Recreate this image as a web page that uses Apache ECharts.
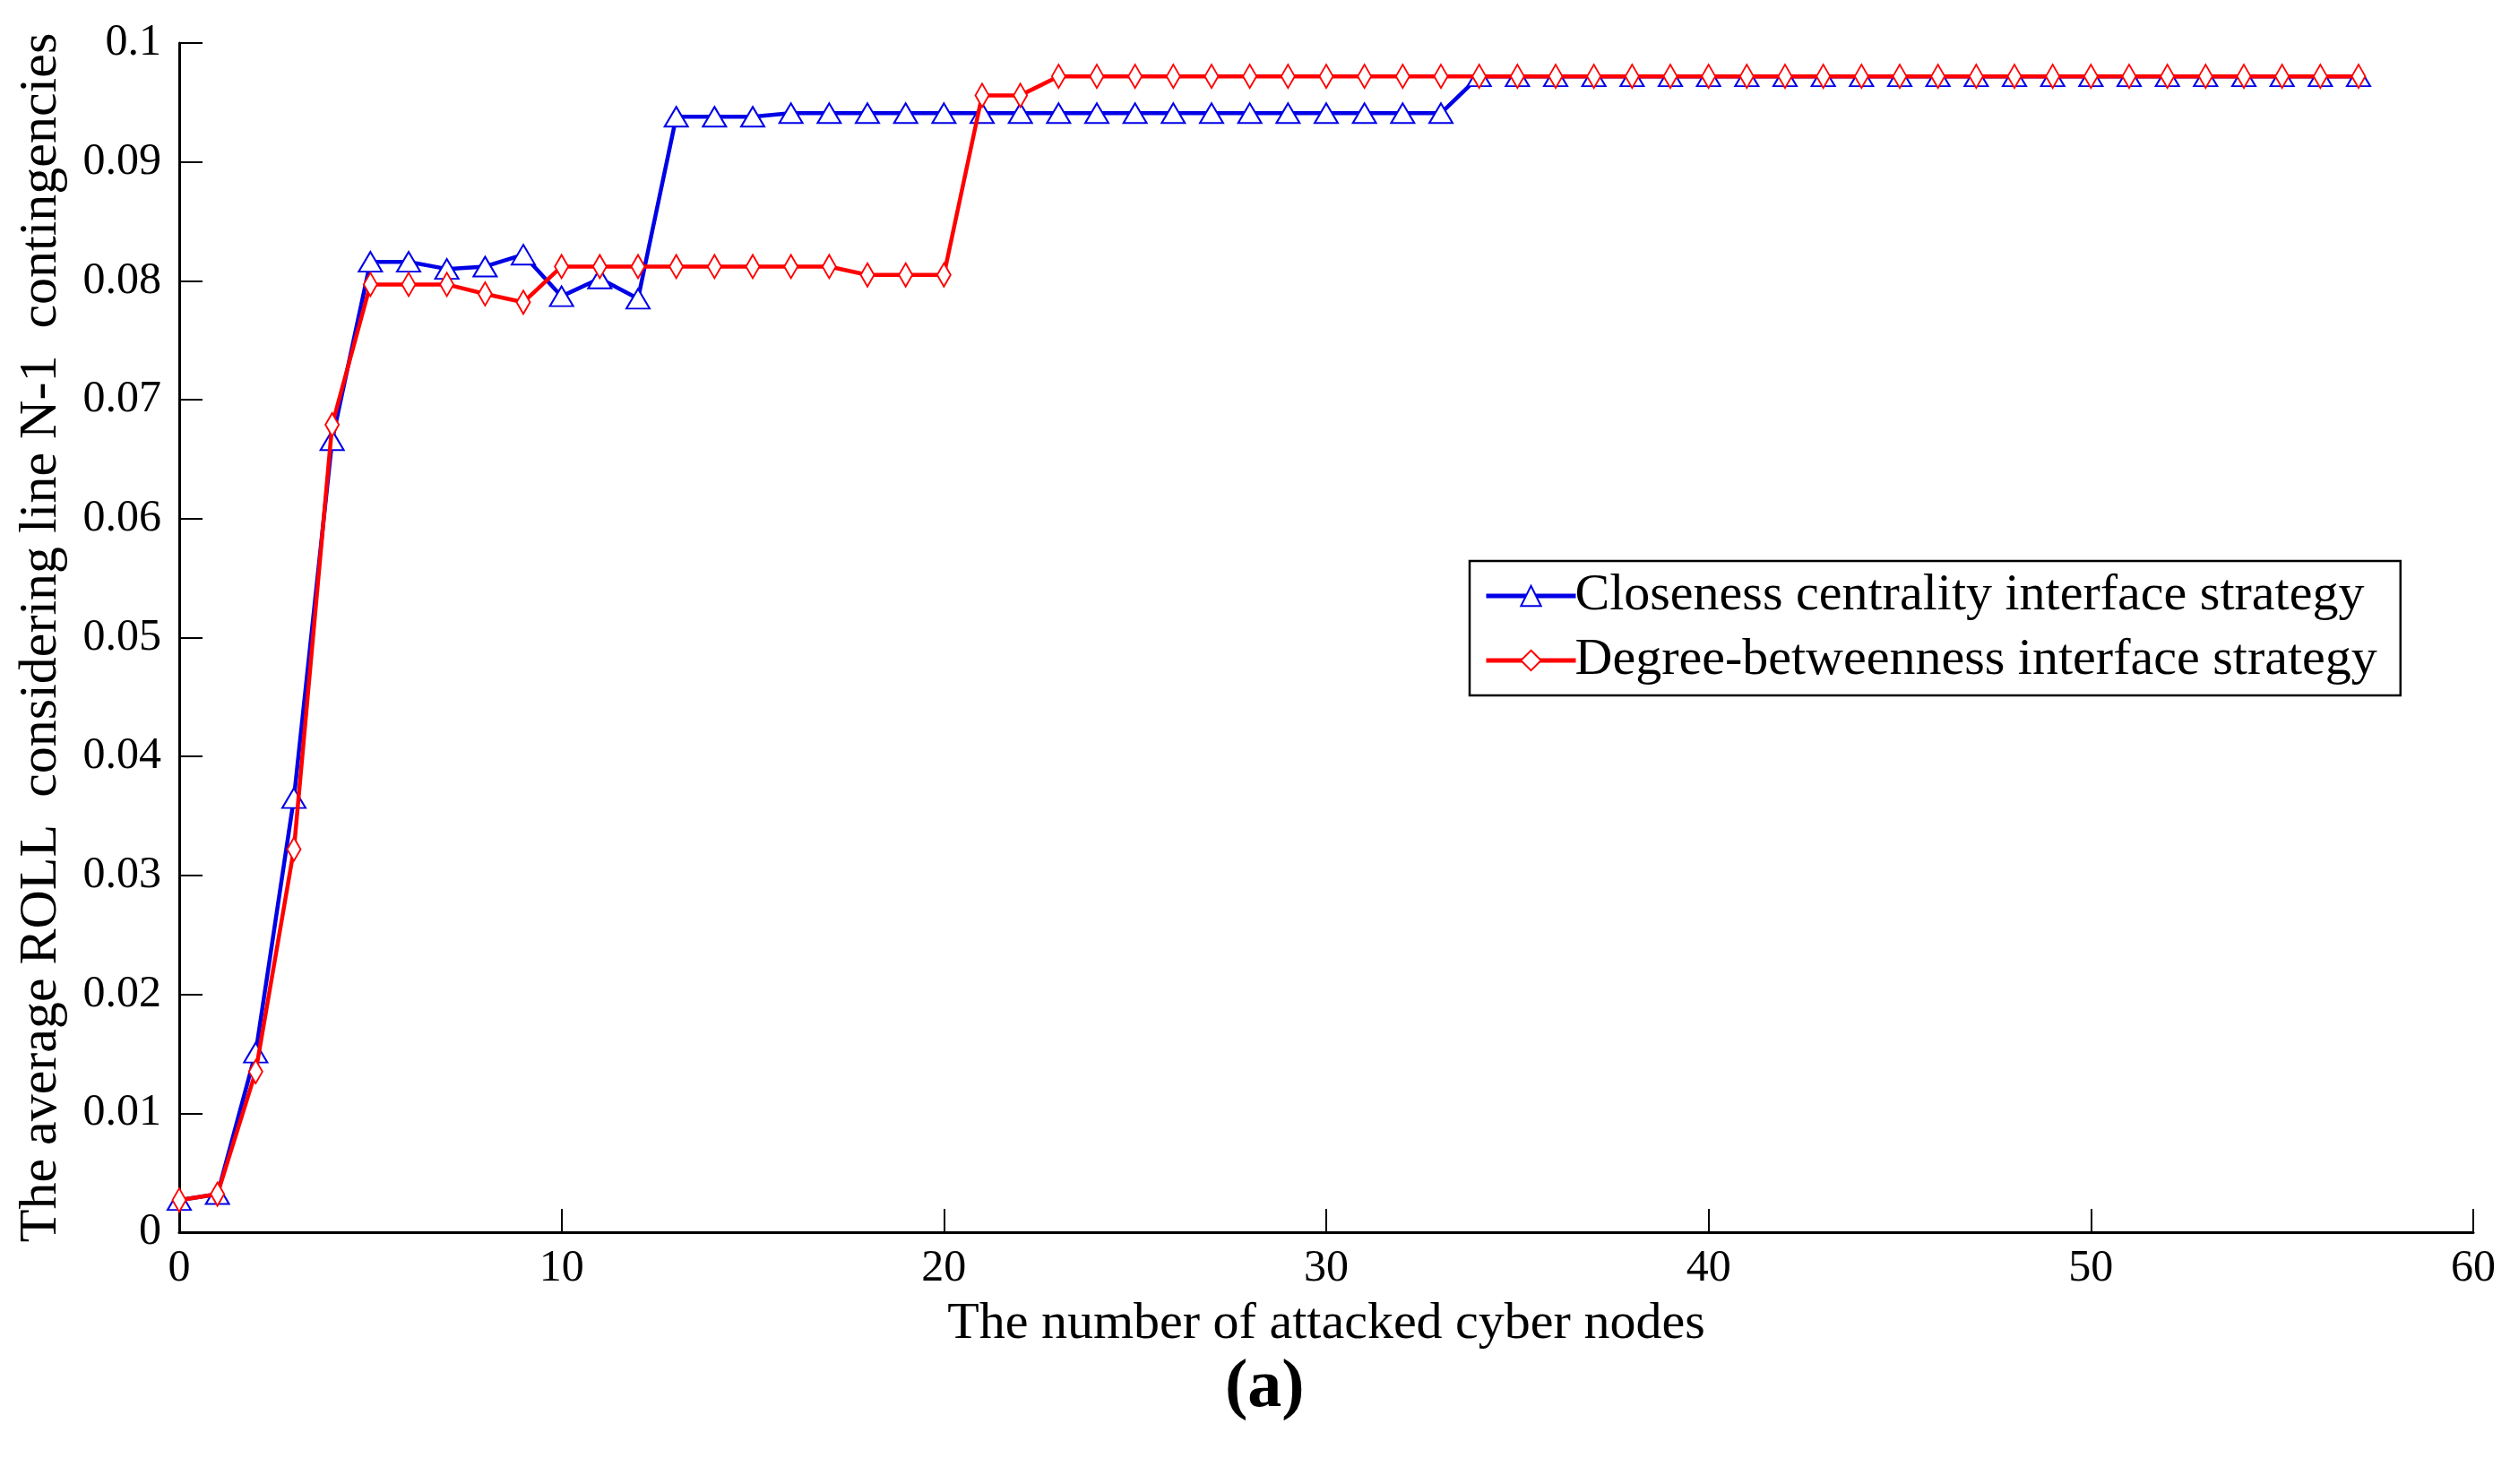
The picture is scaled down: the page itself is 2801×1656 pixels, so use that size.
<!DOCTYPE html>
<html>
<head>
<meta charset="utf-8">
<script src="https://cdn.jsdelivr.net/npm/echarts@6/dist/echarts.min.js"></script>
<style>
html, body { margin: 0; padding: 0; background: #fff; }
#chart { width: 2801px; height: 1656px; }
</style>
</head>
<body>
<div id="chart"></div>
<script>
// attacked nodes 0..57
var nodes = [0,1,2,3,4,5,6,7,8,9,10,11,12,13,14,15,16,17,18,19,20,21,22,23,24,25,26,27,28,29,
	30,31,32,33,34,35,36,37,38,39,40,41,42,43,44,45,46,47,48,49,50,51,52,53,54,55,56,57];

var closeness = [0.0027,0.0032,0.0151,0.0365,0.0666,0.0816,0.0816,0.0810,0.0812,0.0822,
	0.0787,0.0802,0.0785,0.0938,0.0938,0.0938,0.0941,0.0941,0.0941,0.0941,
	0.0941,0.0941,0.0941,0.0941,0.0941,0.0941,0.0941,0.0941,0.0941,0.0941,
	0.0941,0.0941,0.0941,0.0941,0.0972,0.0972,0.0972,0.0972,0.0972,0.0972,
	0.0972,0.0972,0.0972,0.0972,0.0972,0.0972,0.0972,0.0972,0.0972,0.0972,
	0.0972,0.0972,0.0972,0.0972,0.0972,0.0972,0.0972,0.0972];

var degreeBetw = [0.0027,0.0032,0.0135,0.0322,0.0679,0.0797,0.0797,0.0797,0.0789,0.0782,
	0.0812,0.0812,0.0812,0.0812,0.0812,0.0812,0.0812,0.0812,0.0805,0.0805,
	0.0805,0.0956,0.0956,0.0972,0.0972,0.0972,0.0972,0.0972,0.0972,0.0972,
	0.0972,0.0972,0.0972,0.0972,0.0972,0.0972,0.0972,0.0972,0.0972,0.0972,
	0.0972,0.0972,0.0972,0.0972,0.0972,0.0972,0.0972,0.0972,0.0972,0.0972,
	0.0972,0.0972,0.0972,0.0972,0.0972,0.0972,0.0972,0.0972];

var seriesNames = ['Closeness centrality interface strategy', 'Degree-betweenness interface strategy'];

var font = 'Liberation Serif';

function pairs(xs, ys){
	var out = [];
	for (var i = 0; i < xs.length; i++) out.push([xs[i], ys[i]]);
	return out;
}

var myChart = echarts.init(document.getElementById('chart'));
myChart.setOption({
	animation: false,
	backgroundColor: '#fff',
	textStyle: { fontFamily: font, color: '#000' },
	title: {
		text: '(a)',
		left: 1362,
		top: 1506,
		textStyle: { fontFamily: font, fontSize: 76, fontWeight: 'bold', color: '#000' }
	},
	grid: { left: 200, right: 41, top: 48, bottom: 281 },
	legend: {
		orient: 'vertical',
		left: 1640,
		top: 626,
		padding: [10, 26, 10, 16],
		itemGap: 14,
		itemWidth: 100,
		itemHeight: 28,
		backgroundColor: '#fff',
		borderColor: '#000',
		borderWidth: 2.5,
		borderRadius: 0,
		lineStyle: { width: 5 },
		itemStyle: { borderWidth: 4 },
		textStyle: { fontFamily: font, fontSize: 58, color: '#000', padding: [0, 0, 0, -6] },
		data: seriesNames
	},
	xAxis: {
		type: 'value',
		min: 0, max: 60, interval: 10,
		name: 'The number of attacked cyber nodes',
		nameLocation: 'middle',
		nameGap: 74,
		nameTextStyle: { fontFamily: font, fontSize: 58, color: '#000' },
		axisLine: { lineStyle: { color: '#000', width: 3 } },
		axisTick: { inside: true, length: 26, lineStyle: { color: '#000', width: 2 } },
		axisLabel: { fontFamily: font, fontSize: 50, color: '#000', margin: 16 },
		splitLine: { show: false }
	},
	yAxis: {
		type: 'value',
		min: 0, max: 0.1, interval: 0.01,
		name: 'The average ROLL  considering line N-1  contingencies',
		nameLocation: 'middle',
		nameGap: 124,
		nameTextStyle: { fontFamily: font, fontSize: 60, color: '#000' },
		axisLine: { lineStyle: { color: '#000', width: 3 } },
		axisTick: { inside: true, length: 26, lineStyle: { color: '#000', width: 2 } },
		axisLabel: {
			fontFamily: font, fontSize: 50, color: '#000', margin: 20,
			formatter: function(v){ return String(+v.toFixed(2)); }
		},
		splitLine: { show: false }
	},
	series: [{
		name: seriesNames[0],
		type: 'line',
		data: pairs(nodes, closeness),
		symbol: 'emptyTriangle',
		symbolSize: [26, 22],
		lineStyle: { color: '#0000e6', width: 4.5 },
		itemStyle: { color: '#0000e6', borderColor: '#0000e6', borderWidth: 4 },
		z: 2
	}, {
		name: seriesNames[1],
		type: 'line',
		data: pairs(nodes, degreeBetw),
		symbol: 'emptyDiamond',
		symbolSize: [15, 26],
		lineStyle: { color: '#ff0000', width: 4.5 },
		itemStyle: { color: '#ff0000', borderColor: '#ff0000', borderWidth: 4 },
		z: 3
	}]
});
</script>
</body>
</html>
